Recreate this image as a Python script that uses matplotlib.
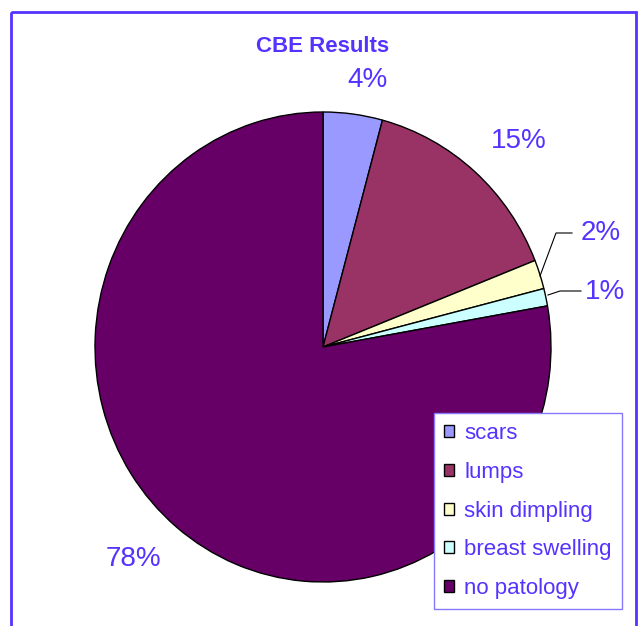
import numpy as np
import matplotlib.pyplot as plt
from matplotlib.patches import Rectangle

categories = ['scars', 'lumps', 'skin dimpling', 'breast swelling', 'no patology']
values = [4.2, 14.8, 2.0, 1.2, 77.8]
colors = ['#9999FF', '#993366', '#FFFFCC', '#CCFFFF', '#660066']
pct_labels = ['4%', '15%', '2%', '1%', '78%']

W, H = 640, 626
txt_col = '#5533FF'
plt.rcParams['font.family'] = ['Liberation Sans', 'DejaVu Sans']

fig = plt.figure(figsize=(W / 100, H / 100), dpi=100)

# pie axes: slightly elliptical like the original
cx, cy, rx, ry = 323, 347, 228, 235
pax = fig.add_axes([(cx - rx) / W, 1 - (cy + ry) / H, 2 * rx / W, 2 * ry / H])
wedges, _ = pax.pie(values, colors=colors, startangle=90, counterclock=False,
                    wedgeprops=dict(edgecolor='black', linewidth=1.0))
pax.set_aspect('auto')
pax.set_xlim(-1, 1)
pax.set_ylim(-1, 1)
pax.axis('off')

# overlay in pixel coords for frame/text
over = fig.add_axes([0, 0, 1, 1])
over.set_xlim(0, W)
over.set_ylim(H, 0)
over.axis('off')
over.patch.set_alpha(0)
over.add_patch(Rectangle((11, 12), 625, 640, fill=False, ec=txt_col, lw=2))
over.text(323, 46, 'CBE Results', ha='center', va='center', color=txt_col,
          fontsize=16, fontweight='bold')

# percentage labels (pixel positions)
label_pos = [(368, 80), (519, 141), (601, 233), (605, 292), (133, 559)]
for (x, y), t in zip(label_pos, pct_labels):
    over.text(x, y, t, ha='center', va='center', color=txt_col, fontsize=20)

# leader lines for small slices
over.plot([540, 556, 572], [276, 233, 233], color='black', lw=0.8)
over.plot([548, 560, 581], [295, 291, 291], color='black', lw=0.8)

leg = fig.legend(wedges, categories, loc='upper left',
                 bbox_to_anchor=(434 / W, 1 - 413 / H),
                 fontsize=16, frameon=True, fancybox=False, handlelength=0.45,
                 handleheight=0.45, handletextpad=0.45, labelspacing=0.8,
                 borderpad=0.45, borderaxespad=0, labelcolor=txt_col,
                 framealpha=1)
leg.get_frame().set_edgecolor('#8877FF')
leg.get_frame().set_linewidth(1.0)

fig.savefig('out.png', dpi=100)
